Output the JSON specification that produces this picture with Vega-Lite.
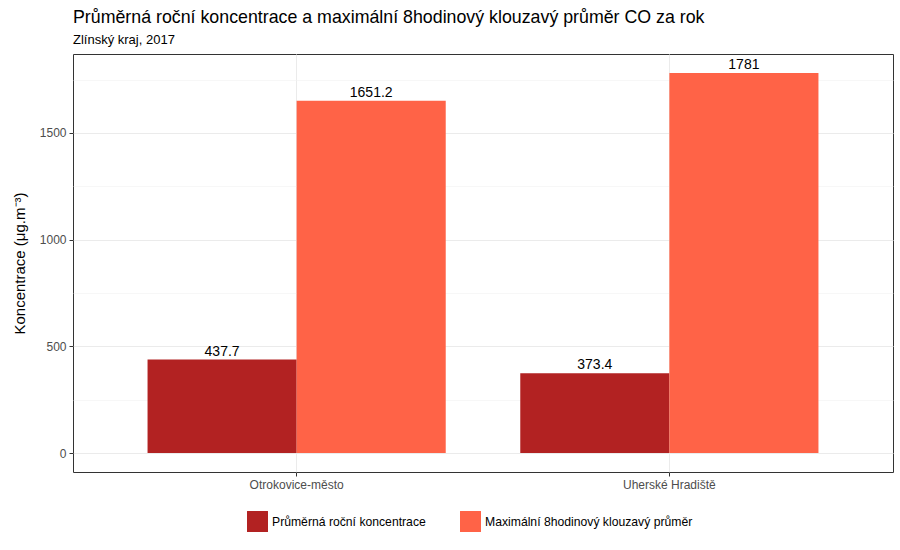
{
  "$schema": "https://vega.github.io/schema/vega-lite/v6.json",
  "autosize": {"type": "none"},
  "width": 820,
  "height": 418,
  "padding": {"left": 73, "top": 54, "right": 7, "bottom": 78},
  "background": "white",
  "config": {
    "font": "Liberation Sans",
    "view": {"stroke": "#333333", "strokeWidth": 1}
  },
  "title": {
    "text": "Průměrná roční koncentrace a maximální 8hodinový klouzavý průměr CO za rok",
    "subtitle": "Zlínský kraj, 2017",
    "anchor": "start",
    "frame": "group",
    "fontSize": 17.8,
    "fontWeight": "normal",
    "color": "black",
    "subtitleFontSize": 13,
    "subtitleColor": "black",
    "subtitlePadding": 7,
    "offset": 7
  },
  "data": {
    "values": [
      {"station": "Otrokovice-město", "type": "Průměrná roční koncentrace", "value": 437.7},
      {"station": "Otrokovice-město", "type": "Maximální 8hodinový klouzavý průměr", "value": 1651.2},
      {"station": "Uherské Hradiště", "type": "Průměrná roční koncentrace", "value": 373.4},
      {"station": "Uherské Hradiště", "type": "Maximální 8hodinový klouzavý průměr", "value": 1781}
    ]
  },
  "encoding": {
    "x": {
      "field": "station",
      "type": "nominal",
      "sort": null,
      "scale": {"paddingInner": 0.2, "paddingOuter": 0.2},
      "axis": {
        "title": null,
        "labelAngle": 0,
        "bandPosition": 0.5,
        "grid": true,
        "gridColor": "#EBEBEB",
        "gridWidth": 1,
        "domain": false,
        "tickColor": "#333333",
        "tickSize": 4,
        "labelColor": "#4D4D4D",
        "labelFontSize": 12,
        "labelPadding": 3
      }
    },
    "xOffset": {
      "field": "type",
      "type": "nominal",
      "sort": ["Průměrná roční koncentrace", "Maximální 8hodinový klouzavý průměr"],
      "scale": {"paddingInner": 0, "paddingOuter": 0}
    },
    "y": {
      "field": "value",
      "type": "quantitative",
      "scale": {"domain": [-89.05, 1870.05], "nice": false, "zero": false},
      "axis": {
        "title": "Koncentrace  (μg.m⁻³)",
        "titleFontSize": 15,
        "titleFontWeight": "normal",
        "titleColor": "black",
        "titlePadding": 12,
        "values": [0, 250, 500, 750, 1000, 1250, 1500, 1750],
        "format": "d",
        "labelExpr": "datum.value % 500 === 0 ? datum.label : ''",
        "labelColor": "#4D4D4D",
        "labelFontSize": 12,
        "labelPadding": 3,
        "domain": false,
        "grid": true,
        "gridColor": {"condition": {"test": "datum.value % 500 === 0", "value": "#EBEBEB"}, "value": "#F2F2F2"},
        "gridWidth": {"condition": {"test": "datum.value % 500 === 0", "value": 1}, "value": 0.6},
        "tickColor": "#333333",
        "tickSize": 4,
        "tickOpacity": {"condition": {"test": "datum.value % 500 === 0", "value": 1}, "value": 0}
      }
    }
  },
  "layer": [
    {
      "mark": {"type": "bar"},
      "encoding": {
        "color": {
          "field": "type",
          "type": "nominal",
          "scale": {
            "domain": ["Průměrná roční koncentrace", "Maximální 8hodinový klouzavý průměr"],
            "range": ["#B22222", "#FF6347"]
          },
          "legend": {
            "orient": "none",
            "legendX": 174,
            "legendY": 457,
            "direction": "horizontal",
            "title": null,
            "symbolType": "square",
            "symbolSize": 440,
            "symbolStrokeWidth": 0,
            "symbolOpacity": 1,
            "labelFontSize": 12.2,
            "labelColor": "black",
            "labelLimit": 0,
            "labelOffset": 4,
            "columnPadding": 34
          }
        }
      }
    },
    {
      "mark": {"type": "text", "baseline": "bottom", "dy": -1, "fontSize": 14, "color": "black"},
      "encoding": {
        "text": {"field": "value", "type": "nominal"}
      }
    }
  ]
}
